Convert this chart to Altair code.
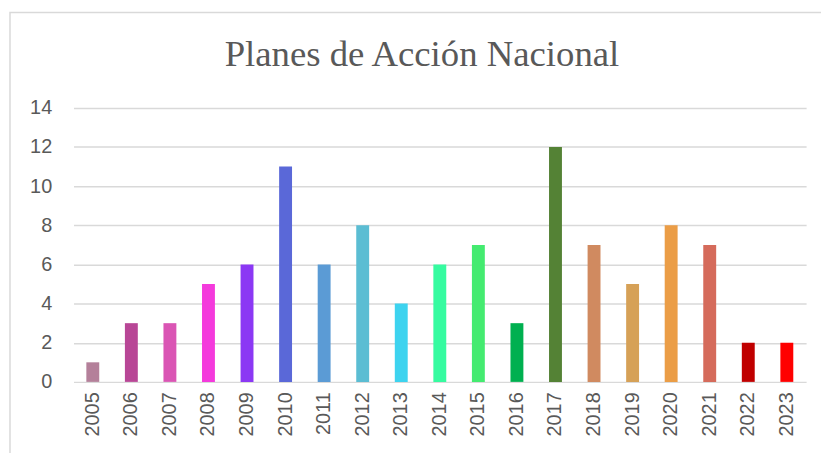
import altair as alt
import pandas as pd

years = [str(y) for y in range(2005, 2024)]
values = [1, 3, 3, 5, 6, 11, 6, 8, 4, 6, 7, 3, 12, 7, 5, 8, 7, 2, 2]
colors = ["#B4809A", "#B84696", "#DA55B4", "#F43ADC", "#8B38F4", "#5A68D8",
          "#5B9BD5", "#5BBDD3", "#3DD3EF", "#36FBA0", "#44EB70", "#00B050",
          "#548235", "#D08A60", "#D6A157", "#EB9D46", "#D56B5B", "#C00000",
          "#FF0000"]
y_ticks = [0, 2, 4, 6, 8, 10, 12, 14]
title_text = "Planes de Acción Nacional"

df = pd.DataFrame({"year": years, "value": values, "color": colors})

W, H = 738, 276

bars = alt.Chart(df).mark_bar(size=13).encode(
    x=alt.X("year:N", sort=years, title=None,
            scale=alt.Scale(paddingInner=0, paddingOuter=0),
            axis=alt.Axis(labelAngle=-90, labelFont="Liberation Sans",
                          labelFontSize=20, labelColor="#595959",
                          ticks=False, domain=False, labelPadding=10,
                          labelBaseline="middle", labelAlign="right")),
    y=alt.Y("value:Q", title=None,
            scale=alt.Scale(domain=[0, 14], nice=False),
            axis=alt.Axis(values=y_ticks, labelFont="Liberation Sans",
                          labelFontSize=20, labelColor="#595959",
                          ticks=False, domain=False, labelPadding=22,
                          grid=True, gridColor="#D9D9D9", gridWidth=1.5)),
    color=alt.Color("color:N", scale=None),
)

first = alt.datum.year == "2005"

border = alt.Chart(df).mark_rect(fill=None, stroke="#D9D9D9", strokeWidth=1.5).encode(
    x=alt.value(-64), x2=alt.value(800), y=alt.value(-96), y2=alt.value(400)
).transform_filter(first)

title = alt.Chart(df).mark_text(
    font="Liberation Serif", fontSize=37, color="#595959",
    align="center", baseline="alphabetic"
).encode(
    x=alt.value(351), y=alt.value(-42), text=alt.value(title_text)
).transform_filter(first)

chart = alt.layer(border, bars, title).properties(
    width=W, height=H,
    autosize=alt.AutoSizeParams(type="none"),
    padding={"left": 66, "top": 99, "right": 15, "bottom": 70},
).configure_view(stroke=None)

chart.save("out.html", embed_options={"renderer": "svg", "actions": False})
